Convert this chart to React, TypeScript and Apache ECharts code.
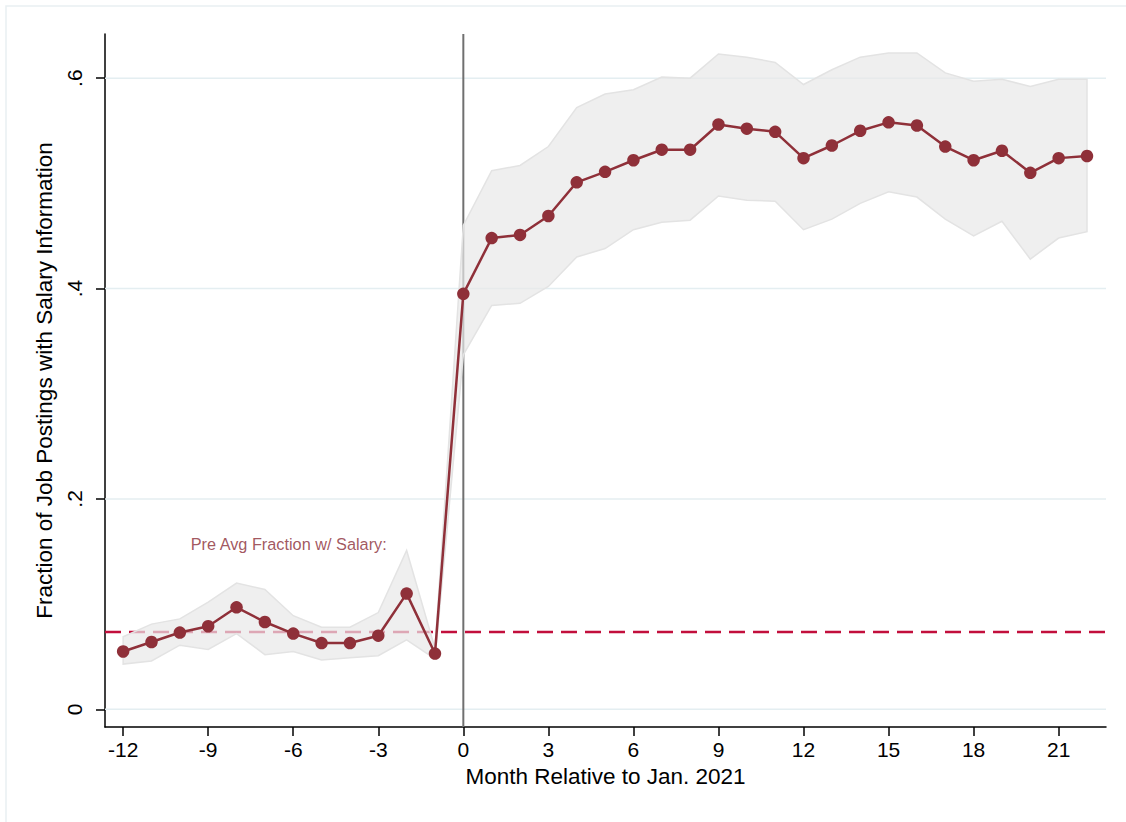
import { useEffect, useRef } from "react";
import * as echarts from "echarts";

// Months relative to January 2021
const months = [
  -12, -11, -10, -9, -8, -7, -6, -5, -4, -3, -2, -1,
  0, 1, 2, 3, 4, 5, 6, 7, 8, 9, 10, 11, 12, 13, 14, 15, 16, 17, 18, 19, 20, 21, 22,
];

// Fraction of job postings with salary information
const fraction = [
  0.055, 0.064, 0.073, 0.079, 0.097, 0.083, 0.072, 0.063, 0.063, 0.07, 0.11, 0.053,
  0.395, 0.448, 0.451, 0.469, 0.501, 0.511, 0.522, 0.532, 0.532, 0.556, 0.552, 0.549,
  0.524, 0.536, 0.55, 0.558, 0.555, 0.535, 0.522, 0.531, 0.51, 0.524, 0.526,
];

// Confidence band bounds
const ciUpper = [
  0.069, 0.081, 0.086, 0.102, 0.12, 0.114, 0.089, 0.078, 0.078, 0.092, 0.151, 0.058,
  0.46, 0.512, 0.517, 0.535, 0.572, 0.585, 0.589, 0.601, 0.6, 0.623, 0.62, 0.615,
  0.594, 0.608, 0.62, 0.624, 0.624, 0.605, 0.597, 0.599, 0.592, 0.599, 0.599,
];
const ciLower = [
  0.043, 0.046, 0.061, 0.057, 0.072, 0.052, 0.055, 0.047, 0.049, 0.051, 0.066, 0.048,
  0.337, 0.384, 0.386, 0.402, 0.43, 0.438, 0.456, 0.463, 0.465, 0.488, 0.484, 0.483,
  0.456, 0.466, 0.481, 0.492, 0.487, 0.466, 0.45, 0.464, 0.428, 0.448, 0.454,
];

const xTicks = [-12, -9, -6, -3, 0, 3, 6, 9, 12, 15, 18, 21];
const yTicks = [0, 0.2, 0.4, 0.6];
const yTickLabels = ["0", ".2", ".4", ".6"];

const xTitle = "Month Relative to Jan. 2021";
const yTitle = "Fraction of Job Postings with Salary Information";
const preLabel = "Pre Avg Fraction w/ Salary:";
const preLabelPos = [-6.16, 0.157];

const X_MIN = -12.64;
const X_MAX = 22.67;
const Y_MIN = -0.0168;
const Y_MAX = 0.642;

const FONT = "'Liberation Sans', Arial, Helvetica, sans-serif";

export default function App() {
  const ref = useRef<HTMLDivElement>(null);

  useEffect(() => {
    if (!ref.current) return;
    const chart = echarts.init(ref.current, null, { renderer: "svg" });

    const pre = fraction.filter((_, i) => months[i] < 0);
    const preAvg = pre.reduce((a, b) => a + b, 0) / pre.length;

    const bandRows = months.map((m, i) => [m, ciLower[i], ciUpper[i]]);
    const mainPts = months.map((m, i) => [m, fraction[i]]);

    const plainLine = (name: string, data: number[][], z: number, lineStyle: object) => ({
      name,
      type: "line",
      data,
      symbol: "none",
      silent: true,
      z,
      lineStyle,
    });

    chart.setOption({
      animation: false,
      textStyle: { fontFamily: FONT },
      graphic: [
        {
          type: "rect",
          shape: { x: 6, y: 6, width: 1140, height: 840 },
          style: { fill: "none", stroke: "#e9f0f2", lineWidth: 1.5 },
          silent: true,
          z: -10,
        },
      ],
      grid: { left: 105, top: 34, right: 20, bottom: 95, containLabel: false },
      xAxis: {
        type: "value",
        min: X_MIN,
        max: X_MAX,
        name: xTitle,
        nameLocation: "middle",
        nameGap: 38,
        nameTextStyle: { fontSize: 22.5, color: "#000", fontFamily: FONT },
        axisLine: { show: true, onZero: false, lineStyle: { color: "#000", width: 1.5 } },
        axisTick: { show: true, length: 9, customValues: xTicks, lineStyle: { color: "#000", width: 1.5 } },
        axisLabel: { customValues: xTicks, fontSize: 21, color: "#000", margin: 12, fontFamily: FONT },
        splitLine: { show: false },
      },
      yAxis: {
        type: "value",
        min: Y_MIN,
        max: Y_MAX,
        name: yTitle,
        nameLocation: "middle",
        nameGap: 46,
        nameTextStyle: { fontSize: 22.5, color: "#000", fontFamily: FONT },
        axisLine: { show: true, onZero: false, lineStyle: { color: "#000", width: 1.5 } },
        axisTick: { show: true, length: 9, customValues: yTicks, lineStyle: { color: "#000", width: 1.5 } },
        axisLabel: {
          customValues: yTicks,
          rotate: 90,
          fontSize: 21,
          color: "#000",
          margin: 20,
          fontFamily: FONT,
          formatter: (v: number) => {
            const k = yTicks.findIndex((t) => Math.abs(t - v) < 1e-9);
            return k >= 0 ? yTickLabels[k] : "";
          },
        },
        splitLine: { show: false },
      },
      series: [
        // horizontal grid lines
        ...yTicks.map((v, i) =>
          plainLine(`grid${i}`, [[X_MIN, v], [X_MAX, v]], 1, { color: "#e4eef1", width: 1.5 })
        ),
        // event month
        plainLine("eventLine", [[0, Y_MIN], [0, Y_MAX]], 2, { color: "#707070", width: 2 }),
        // pre-period average
        plainLine("preAvg", [[X_MIN, preAvg], [X_MAX, preAvg]], 2, {
          color: "#c20f3c",
          width: 2.5,
          type: [16, 8],
        }),
        {
          // confidence band
          name: "ci",
          type: "custom",
          silent: true,
          z: 3,
          data: bandRows,
          encode: { x: 0, y: [1, 2] },
          renderItem: (params: any, api: any) => {
            if (params.dataIndex !== 0) return null;
            const upper = bandRows.map((r) => api.coord([r[0], r[2]]));
            const lower = bandRows.map((r) => api.coord([r[0], r[1]])).reverse();
            return {
              type: "polygon",
              shape: { points: [...upper, ...lower] },
              style: { fill: "rgba(232,232,232,0.7)", stroke: "#e3e3e3", lineWidth: 1.5 },
            };
          },
        },
        {
          name: "fraction",
          type: "line",
          data: mainPts,
          symbol: "circle",
          symbolSize: 12.5,
          itemStyle: { color: "#8f3039" },
          lineStyle: { color: "#8f3039", width: 2.5 },
          z: 5,
        },
        {
          name: "preLabel",
          type: "scatter",
          data: [preLabelPos],
          symbolSize: 0,
          silent: true,
          z: 6,
          label: {
            show: true,
            position: "inside",
            formatter: preLabel,
            fontSize: 16.3,
            color: "#8a2c36",
            fontFamily: FONT,
          },
        },
      ],
    });

    return () => chart.dispose();
  }, []);

  return (
    <div
      ref={ref}
      style={{ position: "absolute", left: 0, top: 0, width: 1126, height: 822, background: "#fff" }}
    />
  );
}
